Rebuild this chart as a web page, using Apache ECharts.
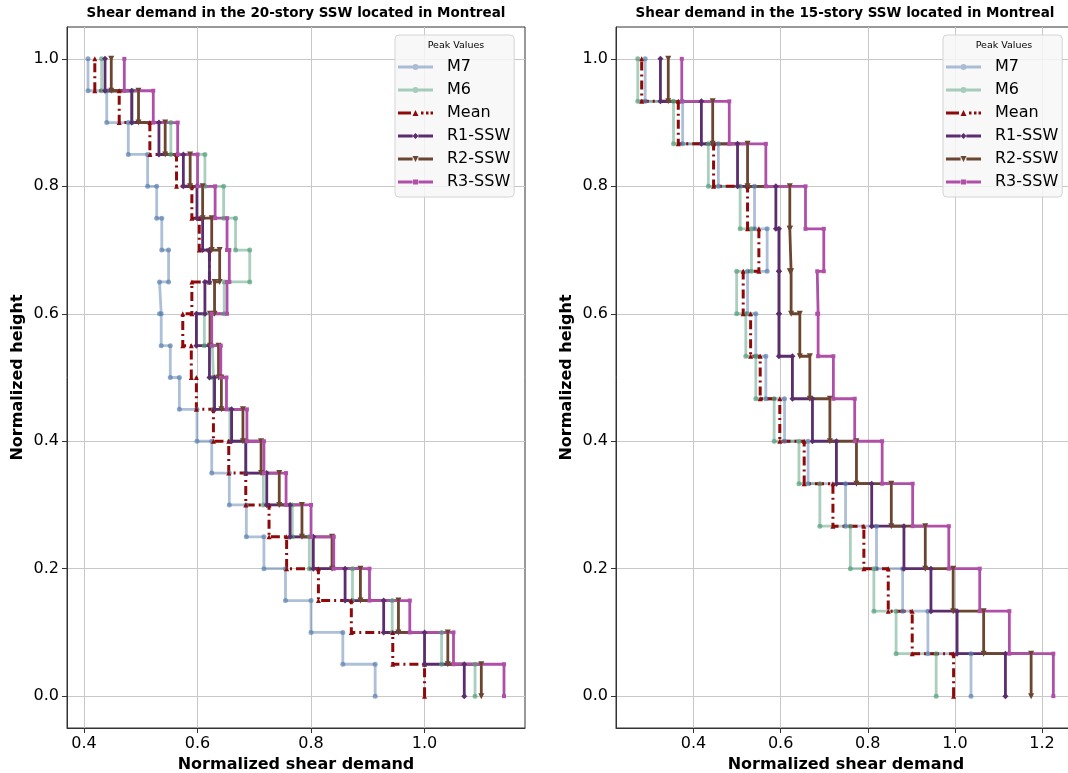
<!DOCTYPE html>
<html>
<head>
<meta charset="utf-8">
<script src="https://cdn.jsdelivr.net/npm/echarts@6/dist/echarts.min.js"></script>
<style>
  html, body { margin: 0; padding: 0; background: #fff; overflow: hidden; }
  #chart { width: 1068px; height: 773px; }
</style>
</head>
<body>
<div id="chart"></div>
<script>
// peak shear per storey, bottom storey first
var seriesNames = ['M7', 'M6', 'Mean', 'R1-SSW', 'R2-SSW', 'R3-SSW'];

// 20-story SSW
var m7_20   = [0.913, 0.856, 0.800, 0.755, 0.717, 0.686, 0.656, 0.625, 0.599, 0.568, 0.552, 0.536, 0.533, 0.549, 0.537, 0.528, 0.512, 0.478, 0.440, 0.407];
var m6_20   = [1.089, 1.030, 0.943, 0.873, 0.797, 0.767, 0.716, 0.685, 0.657, 0.628, 0.626, 0.612, 0.647, 0.692, 0.667, 0.646, 0.613, 0.553, 0.485, 0.431];
var mean_20 = [1.000, 0.944, 0.871, 0.813, 0.757, 0.726, 0.685, 0.655, 0.628, 0.598, 0.589, 0.574, 0.590, 0.621, 0.603, 0.590, 0.563, 0.516, 0.462, 0.419];
var r1_20   = [1.070, 1.000, 0.928, 0.860, 0.804, 0.763, 0.722, 0.685, 0.660, 0.630, 0.621, 0.598, 0.613, 0.621, 0.609, 0.599, 0.575, 0.532, 0.484, 0.437];
var r2_20   = [1.100, 1.041, 0.954, 0.887, 0.837, 0.784, 0.744, 0.712, 0.680, 0.642, 0.637, 0.622, 0.630, 0.639, 0.625, 0.609, 0.587, 0.543, 0.496, 0.448];
var r3_20   = [1.140, 1.051, 0.974, 0.903, 0.840, 0.800, 0.756, 0.717, 0.687, 0.651, 0.641, 0.625, 0.652, 0.656, 0.652, 0.631, 0.600, 0.565, 0.522, 0.471];

// 15-story SSW
var m7_15   = [1.037, 0.938, 0.880, 0.820, 0.749, 0.663, 0.609, 0.566, 0.543, 0.524, 0.569, 0.540, 0.457, 0.375, 0.289];
var m6_15   = [0.957, 0.865, 0.814, 0.760, 0.690, 0.642, 0.585, 0.543, 0.520, 0.499, 0.533, 0.507, 0.434, 0.354, 0.272];
var mean_15 = [0.997, 0.902, 0.847, 0.791, 0.720, 0.654, 0.598, 0.553, 0.531, 0.514, 0.550, 0.524, 0.446, 0.365, 0.281];
var r1_15   = [1.116, 1.005, 0.945, 0.883, 0.809, 0.728, 0.673, 0.627, 0.596, 0.596, 0.596, 0.589, 0.501, 0.418, 0.324];
var r2_15   = [1.175, 1.066, 0.996, 0.932, 0.854, 0.774, 0.713, 0.667, 0.644, 0.624, 0.621, 0.621, 0.524, 0.444, 0.342];
var r3_15   = [1.226, 1.125, 1.057, 0.986, 0.903, 0.833, 0.770, 0.721, 0.686, 0.684, 0.699, 0.657, 0.566, 0.482, 0.373];

var yTicks = [0, 0.2, 0.4, 0.6, 0.8, 1.0];
var xTicks20 = [0.4, 0.6, 0.8, 1.0];
var xTicks15 = [0.4, 0.6, 0.8, 1.0, 1.2];

var styles = {
  'M7':     { color: '#5b82b0', width: 2.8, opacity: 0.5, symbol: 'circle', size: 5 },
  'M6':     { color: '#55a07d', width: 2.8, opacity: 0.5, symbol: 'circle', size: 5 },
  'Mean':   { color: '#8e0a0a', width: 3, opacity: 1, symbol: 'triangle', size: 5, dash: [9, 4, 2, 4] },
  'R1-SSW': { color: '#5c2d6e', width: 2.8, opacity: 1, symbol: 'diamond', size: 6 },
  'R2-SSW': { color: '#6b4530', width: 2.8, opacity: 1, symbol: 'triangle', size: 6, rotate: 180 },
  'R3-SSW': { color: '#b04fa8', width: 2.8, opacity: 1, symbol: 'rect', size: 4 }
};

// legend handles: short line split around a small marker (no overlap, so fills stay solid)
var bars = 'M0,1.6L14.6,1.6L14.6,4.4L0,4.4Z M20.4,1.6L35,1.6L35,4.4L20.4,4.4Z ';
var legendIcons = {
  'M7': 'path://' + bars + 'M14.5,3A3,3 0 1,1 20.5,3A3,3 0 1,1 14.5,3Z',
  'M6': 'path://' + bars + 'M14.5,3A3,3 0 1,1 20.5,3A3,3 0 1,1 14.5,3Z',
  'Mean': 'path://M0,1.5L13,1.5L13,4.5L0,4.5Z M14.5,6L20.5,6L17.5,0Z M23,1.5L25.5,1.5L25.5,4.5L23,4.5Z M28,1.5L30.5,1.5L30.5,4.5L28,4.5Z M32.5,1.5L35,1.5L35,4.5L32.5,4.5Z',
  'R1-SSW': 'path://' + bars + 'M17.5,0L20.5,3L17.5,6L14.5,3Z',
  'R2-SSW': 'path://' + bars + 'M14.5,0L20.5,0L17.5,6Z',
  'R3-SSW': 'path://' + bars + 'M15,0.5L20,0.5L20,5.5L15,5.5Z'
};

// each storey is a vertical segment from its floor to its ceiling
function steps(values) {
  var n = values.length;
  var pts = [];
  values.forEach(function (v, i) {
    pts.push([v, i / n], [v, (i + 1) / n]);
  });
  return pts;
}

function makeSeries(name, values, idx) {
  var s = styles[name];
  return {
    name: name,
    type: 'line',
    xAxisIndex: idx,
    yAxisIndex: idx,
    data: steps(values),
    symbol: s.symbol,
    symbolSize: s.size,
    symbolRotate: s.rotate || 0,
    showAllSymbol: true,
    lineStyle: { color: s.color, width: s.width, opacity: s.opacity, type: s.dash || 'solid' },
    itemStyle: { color: s.color, opacity: Math.min(1, s.opacity + 0.2) },
    emphasis: { disabled: true },
    animation: false
  };
}

var font = 'DejaVu Sans';

function xAxis(idx, min, max, ticks) {
  return {
    type: 'value', gridIndex: idx, min: min, max: max,
    name: 'Normalized shear demand', nameLocation: 'middle', nameGap: 27,
    nameTextStyle: { fontFamily: font, fontWeight: 'bold', fontSize: 16, color: '#000' },
    axisLine: { show: true, onZero: false, lineStyle: { color: '#333', width: 1 } },
    axisTick: { show: true, length: 5, customValues: ticks, lineStyle: { color: '#333' } },
    axisLabel: { customValues: ticks, fontFamily: font, fontSize: 16, color: '#000', margin: 8,
      formatter: function (v) { return v.toFixed(1); } },
    splitLine: { show: true, lineStyle: { color: '#c8c8c8', width: 1 } }
  };
}

function yAxis(idx) {
  return {
    type: 'value', gridIndex: idx, min: -0.05, max: 1.05,
    name: 'Normalized height', nameLocation: 'middle', nameGap: 41,
    nameTextStyle: { fontFamily: font, fontWeight: 'bold', fontSize: 16, color: '#000' },
    axisLine: { show: true, onZero: false, lineStyle: { color: '#333', width: 1 } },
    axisTick: { show: true, length: 5, customValues: yTicks, lineStyle: { color: '#333' } },
    axisLabel: { customValues: yTicks, fontFamily: font, fontSize: 16, color: '#000', margin: 8,
      formatter: function (v) { return v.toFixed(1); } },
    splitLine: { show: true, lineStyle: { color: '#c8c8c8', width: 1 } }
  };
}

function legend(left) {
  return {
    orient: 'vertical', left: left, top: 35,
    data: seriesNames.map(function (n) {
      var item = { name: n, icon: legendIcons[n] };
      if (styles[n].opacity < 1) item.itemStyle = { opacity: 0.5 };
      return item;
    }),
    padding: [24, 4, 7, 3],
    itemGap: 7, itemWidth: 35, itemHeight: 6,
    textStyle: { fontFamily: font, fontSize: 16, color: '#000', padding: [0, 0, 0, 9], lineHeight: 16 },
    backgroundColor: 'rgba(247,247,247,0.85)',
    borderColor: '#d4d4d4', borderWidth: 1, borderRadius: 4,
    selectedMode: false
  };
}

function label(x, y, text, size, weight) {
  return {
    type: 'text', x: x, y: y, z: 100,
    style: { text: text, fontFamily: font, fontSize: size, fontWeight: weight,
      fill: '#000', align: 'center', verticalAlign: 'middle' }
  };
}

function grid(left, width) {
  return { left: left, top: 27, width: width, height: 701, show: true,
    borderColor: '#333', borderWidth: 1, outerBoundsMode: 'none', containLabel: false };
}

var chart = echarts.init(document.getElementById('chart'), null, { renderer: 'canvas' });
chart.setOption({
  backgroundColor: '#fff',
  animation: false,
  grid: [grid(67, 458), grid(616, 460)],
  xAxis: [xAxis(0, 0.37, 1.177, xTicks20), xAxis(1, 0.222, 1.278, xTicks15)],
  yAxis: [yAxis(0), yAxis(1)],
  legend: [legend(395), legend(943)],
  graphic: [
    label(296, 13, 'Shear demand in the 20-story SSW located in Montreal', 13.5, 'bold'),
    label(845, 13, 'Shear demand in the 15-story SSW located in Montreal', 13.5, 'bold'),
    label(456, 46, 'Peak Values', 9.5, 'normal'),
    label(1004, 46, 'Peak Values', 9.5, 'normal')
  ],
  series: [
    makeSeries('M7', m7_20, 0),
    makeSeries('M6', m6_20, 0),
    makeSeries('Mean', mean_20, 0),
    makeSeries('R1-SSW', r1_20, 0),
    makeSeries('R2-SSW', r2_20, 0),
    makeSeries('R3-SSW', r3_20, 0),
    makeSeries('M7', m7_15, 1),
    makeSeries('M6', m6_15, 1),
    makeSeries('Mean', mean_15, 1),
    makeSeries('R1-SSW', r1_15, 1),
    makeSeries('R2-SSW', r2_15, 1),
    makeSeries('R3-SSW', r3_15, 1)
  ]
});
</script>
</body>
</html>
